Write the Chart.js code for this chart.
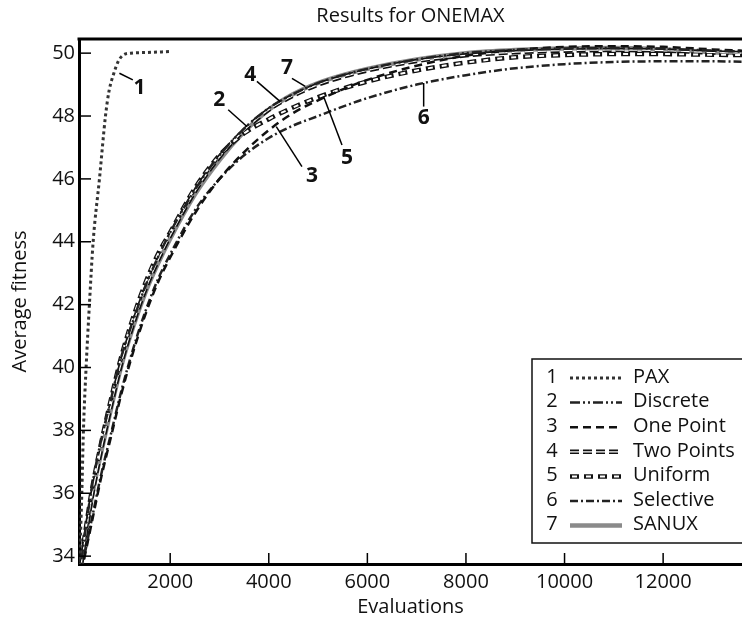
<!DOCTYPE html>
<html>
<head>
<title>Results for ONEMAX</title>
<style>
body { margin: 0; background: #fff; }
canvas { display: block; }
</style>
</head>
<body>
<canvas id="chart" width="742" height="624"></canvas>
<script src="https://cdn.jsdelivr.net/npm/chart.js@4.4.1/dist/chart.umd.min.js"></script>
<script>
// values
var evals = [200, 400, 600, 800, 1000, 1250, 1500, 1750, 2000, 2500, 3000, 3500, 4000, 4500, 5000, 5500, 6000, 7000, 8000, 9000, 10000, 11000, 12000, 13000, 13600];
var discrete  = [33.9, 36.1, 37.7, 39.0, 40.3, 41.5, 42.6, 43.5, 44.3, 45.65, 46.75, 47.6, 48.25, 48.7, 49.05, 49.3, 49.5, 49.8, 50.0, 50.1, 50.15, 50.16, 50.14, 50.08, 50.05];
var onePoint  = [33.5, 35.0, 36.5, 37.8, 39.1, 40.5, 41.7, 42.7, 43.5, 44.9, 46.0, 46.85, 47.55, 48.1, 48.5, 48.85, 49.15, 49.6, 49.92, 50.1, 50.2, 50.22, 50.2, 50.12, 50.08];
var twoPoints = [33.8, 35.8, 37.4, 38.8, 40.1, 41.4, 42.5, 43.4, 44.2, 45.6, 46.7, 47.55, 48.2, 48.65, 49.0, 49.25, 49.45, 49.75, 49.93, 50.03, 50.08, 50.1, 50.08, 50.02, 50.0];
var uniform   = [33.95, 36.0, 37.6, 39.0, 40.3, 41.6, 42.7, 43.6, 44.3, 45.7, 46.75, 47.45, 47.9, 48.28, 48.6, 48.87, 49.1, 49.45, 49.7, 49.87, 49.94, 49.97, 49.97, 49.95, 49.94];
var selective = [33.55, 35.1, 36.6, 37.9, 39.2, 40.6, 41.8, 42.8, 43.6, 45.0, 46.0, 46.75, 47.3, 47.7, 48.0, 48.3, 48.57, 49.0, 49.3, 49.52, 49.65, 49.72, 49.74, 49.74, 49.73];
var sanux     = [33.8, 35.8, 37.3, 38.7, 40.0, 41.3, 42.4, 43.3, 44.1, 45.5, 46.6, 47.5, 48.2, 48.7, 49.05, 49.3, 49.5, 49.8, 50.0, 50.1, 50.15, 50.16, 50.12, 50.03, 50.0];

var paxEvals   = [160, 207, 240, 294, 361, 437, 565, 687, 760, 857, 950, 1040, 1200, 1500, 2000];
var paxFitness = [33.7, 36, 38, 40, 42, 44, 46, 48, 48.8, 49.36, 49.75, 49.93, 50.0, 50.02, 50.05];

var seriesNames = ['PAX', 'Discrete', 'One Point', 'Two Points', 'Uniform', 'Selective', 'SANUX'];
var xTicks = [2000, 4000, 6000, 8000, 10000, 12000];
var yTicks = [34, 36, 38, 40, 42, 44, 46, 48, 50];

// numbered callouts: text position and leader line, in data units
var callouts = [
    { text: '1', tx: 1377, ty: 48.89, x1: 1242, y1: 49.15, x2: 970, y2: 49.36 },
    { text: '2', tx: 2994, ty: 48.51, x1: 3177, y1: 48.2, x2: 3563, y2: 47.66 },
    { text: '3', tx: 4877, ty: 46.08, x1: 4673, y1: 46.39, x2: 4152, y2: 47.66 },
    { text: '4', tx: 3624, ty: 49.31, x1: 3760, y1: 49.1, x2: 4233, y2: 48.46 },
    { text: '5', tx: 5587, ty: 46.66, x1: 5485, y1: 47.08, x2: 5112, y2: 48.62 },
    { text: '6', tx: 7142, ty: 47.93, x1: 7142, y1: 48.3, x2: 7142, y2: 49.05 },
    { text: '7', tx: 4369, ty: 49.52, x1: 4470, y1: 49.2, x2: 4740, y2: 48.94 }
];

var FONT = "'Open Sans', 'Noto Sans', sans-serif";

function pairs(xs, ys) {
    return xs.map(function(x, i) { return { x: x, y: ys[i] }; });
}

function line(series, values, xs, style) {
    return {
        series: series,
        data: pairs(xs, values),
        borderColor: style.color,
        borderWidth: style.width,
        borderDash: style.dash || [],
        borderDashOffset: style.offset || 0,
        pointRadius: 0,
        fill: false,
        cubicInterpolationMode: 'monotone',
        order: style.order || 0
    };
}

var datasets = [
    line(1, paxFitness, paxEvals, { color: '#333', width: 3, dash: [3, 3] }),
    line(2, discrete, evals, { color: '#222', width: 2.5, dash: [10, 3, 2, 3, 2, 3] }),
    line(3, onePoint, evals, { color: '#111', width: 2.5, dash: [8, 5] }),
    line(4, twoPoints, evals, { color: '#111', width: 4.5, dash: [9, 4], order: 1 }),
    line(4, twoPoints, evals, { color: '#fff', width: 1.2, dash: [9, 4], order: 0 }),
    line(5, uniform, evals, { color: '#111', width: 4.5, dash: [9, 5], order: 1 }),
    line(5, uniform, evals, { color: '#fff', width: 2, dash: [5, 9], offset: -2, order: 0 }),
    line(6, selective, evals, { color: '#222', width: 2.5, dash: [8, 3, 2, 3] }),
    line(7, sanux, evals, { color: '#8a8a8a', width: 4.5, order: 5 })
];

var decorations = {
    id: 'decorations',
    afterDraw: function(chart) {
        var ctx = chart.ctx, area = chart.chartArea;
        var xs = chart.scales.x, ys = chart.scales.y;
        ctx.save();

        // top frame
        ctx.strokeStyle = '#000';
        ctx.lineWidth = 3;
        ctx.beginPath();
        ctx.moveTo(area.left - 1.5, area.top);
        ctx.lineTo(area.right, area.top);
        ctx.stroke();

        // inward tick marks
        ctx.lineWidth = 1.5;
        yTicks.forEach(function(v) {
            var py = ys.getPixelForValue(v);
            ctx.beginPath();
            ctx.moveTo(area.left, py);
            ctx.lineTo(area.left + 12, py);
            ctx.stroke();
        });
        xTicks.forEach(function(v) {
            var px = xs.getPixelForValue(v);
            ctx.beginPath();
            ctx.moveTo(px, area.bottom);
            ctx.lineTo(px, area.bottom - 11);
            ctx.stroke();
        });

        // callouts
        ctx.fillStyle = '#111';
        ctx.font = 'bold 21px ' + FONT;
        ctx.textAlign = 'center';
        ctx.textBaseline = 'middle';
        callouts.forEach(function(c) {
            ctx.beginPath();
            ctx.moveTo(xs.getPixelForValue(c.x1), ys.getPixelForValue(c.y1));
            ctx.lineTo(xs.getPixelForValue(c.x2), ys.getPixelForValue(c.y2));
            ctx.stroke();
            ctx.fillText(c.text, xs.getPixelForValue(c.tx), ys.getPixelForValue(c.ty));
        });

        // title
        ctx.font = '20px ' + FONT;
        ctx.fillText('Results for ONEMAX', (area.left + area.right) / 2, 16);

        // legend box
        var bx = 532, by = 359, bw = 214, bh = 184;
        ctx.fillStyle = '#fff';
        ctx.fillRect(bx, by, bw, bh);
        ctx.strokeStyle = '#111';
        ctx.lineWidth = 1.5;
        ctx.strokeRect(bx, by, bw, bh);
        ctx.font = '20px ' + FONT;
        seriesNames.forEach(function(name, i) {
            var ry = 377 + i * 24.6;
            ctx.fillStyle = '#111';
            ctx.textAlign = 'center';
            ctx.fillText(String(i + 1), 552, ry);
            ctx.textAlign = 'left';
            ctx.fillText(name, 633, ry);
            chart.data.datasets.filter(function(d) { return d.series === i + 1; })
                .sort(function(a, b) { return b.order - a.order; })
                .forEach(function(d) {
                    ctx.save();
                    ctx.strokeStyle = d.borderColor;
                    ctx.lineWidth = d.borderWidth;
                    ctx.setLineDash(d.borderDash);
                    ctx.lineDashOffset = d.borderDashOffset;
                    ctx.beginPath();
                    ctx.moveTo(570, ry + 1);
                    ctx.lineTo(622, ry + 1);
                    ctx.stroke();
                    ctx.restore();
                });
        });
        ctx.restore();
    }
};

new Chart(document.getElementById('chart').getContext('2d'), {
    type: 'line',
    data: { datasets: datasets },
    options: {
        responsive: false,
        animation: false,
        layout: { padding: { top: 39, left: 0, right: 0, bottom: 0 } },
        plugins: { legend: { display: false }, tooltip: { enabled: false }, title: { display: false } },
        scales: {
            x: {
                type: 'linear', min: 150, max: 13600,
                afterBuildTicks: function(s) { s.ticks = xTicks.map(function(v) { return { value: v }; }); },
                afterFit: function(s) { s.height = 60; },
                grid: { display: false, drawTicks: false },
                border: { display: true, color: '#000', width: 3 },
                ticks: {
                    color: '#111', font: { family: FONT, size: 20 }, padding: 6, maxRotation: 0,
                    callback: function(v) { return String(v); }
                },
                title: { display: true, text: 'Evaluations', color: '#111', font: { family: FONT, size: 20 }, padding: { top: 0, bottom: 5 } }
            },
            y: {
                type: 'linear', min: 33.75, max: 50.45,
                afterBuildTicks: function(s) { s.ticks = yTicks.map(function(v) { return { value: v }; }); },
                afterFit: function(s) { s.width = 79; },
                grid: { display: false, drawTicks: false },
                border: { display: true, color: '#000', width: 3 },
                ticks: { color: '#111', font: { family: FONT, size: 20 }, padding: 4 },
                title: { display: true, text: 'Average fitness', color: '#111', font: { family: FONT, size: 20 }, padding: { top: 8, bottom: 0 } }
            }
        }
    },
    plugins: [decorations]
});
</script>
</body>
</html>
